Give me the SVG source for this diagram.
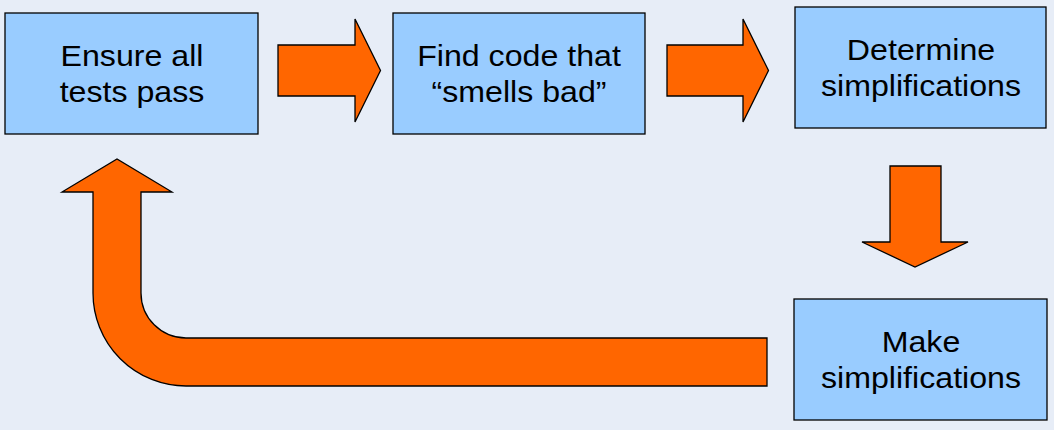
<svg xmlns="http://www.w3.org/2000/svg" width="1054" height="430" viewBox="0 0 1054 430">
<style>
.box{fill:#99CCFF;stroke:#000;stroke-width:1.3}
.arr{fill:#FF6600;stroke:#000;stroke-width:1.3;stroke-linejoin:miter}
.t{font-family:"Liberation Sans",Arial,sans-serif;font-size:29.5px;fill:#000;text-anchor:middle}
</style>
<rect width="1054" height="430" fill="#E7EDF7"/>
<g id="connectors">
<path class="arr" d="M278,45 H355 V19 L380.5,70.5 L355,122 V96 H278 Z"/>
<path class="arr" d="M667,45 H743 V19 L768.5,70.5 L743,122 V96 H667 Z"/>
<path class="arr" d="M890,166 H941 V242 H968 L915,267 L862,242 H890 Z"/>
<path class="arr" d="M767,338 H186 A45,45 0 0 1 141,293 V192 H172 L117,159 L62,192 H93 V293 A93,93 0 0 0 186,386 H767 Z"/>
</g>
<g id="node1">
<rect class="box" x="5" y="13" width="253" height="121"/>
<g transform="translate(132,0) scale(1.09,1)">
<text class="t" x="0" y="66.5">Ensure all</text>
<text class="t" x="0" y="102.5">tests pass</text>
</g>
</g>
<g id="node2">
<rect class="box" x="393" y="13" width="252" height="121"/>
<g transform="translate(519,0) scale(1.09,1)">
<text class="t" x="0" y="66.5">Find code that</text>
<text class="t" x="0" y="102.5">“smells bad”</text>
</g>
</g>
<g id="node3">
<rect class="box" x="795" y="7" width="251" height="121"/>
<g transform="translate(921,0) scale(1.09,1)">
<text class="t" x="0" y="60.5">Determine</text>
<text class="t" x="0" y="96.5">simplifications</text>
</g>
</g>
<g id="node4">
<rect class="box" x="794" y="299" width="253" height="121"/>
<g transform="translate(921,0) scale(1.09,1)">
<text class="t" x="0" y="352.5">Make</text>
<text class="t" x="0" y="388.5">simplifications</text>
</g>
</g>
</svg>
